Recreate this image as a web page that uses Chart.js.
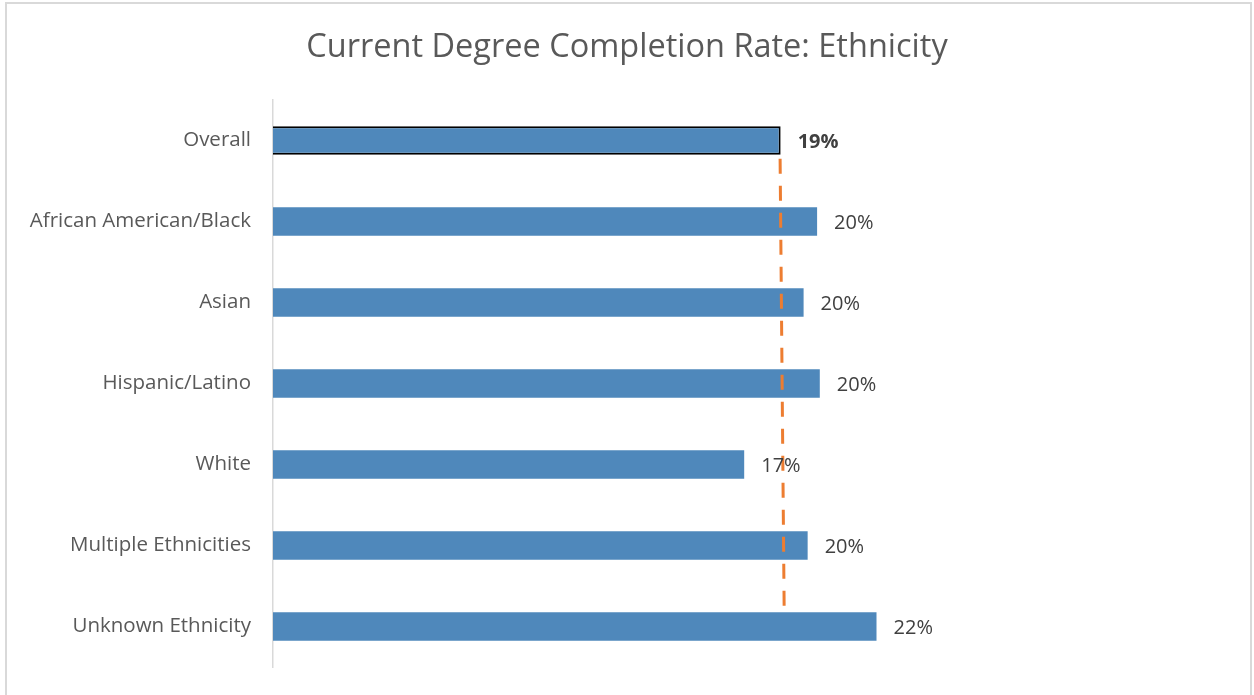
<!DOCTYPE html>
<html>
<head>
<meta charset="utf-8">
<script src="https://cdn.jsdelivr.net/npm/chart.js@4"></script>
<style>
  html, body { margin: 0; padding: 0; background: #fff; overflow: hidden; }
  #frame {
    position: absolute; left: 5px; top: 2px; width: 1247px; height: 700px;
    border: 2px solid #d9d9d9; box-sizing: border-box;
  }
  #chart { position: absolute; left: 0; top: 0; }
</style>
</head>
<body>
<div id="frame"></div>
<canvas id="chart" width="1254" height="695"></canvas>
<script>
//Categories and values (percent)
const CATEGORIES = ["Overall", "African American/Black", "Asian", "Hispanic/Latino",
    "White", "Multiple Ethnicities", "Unknown Ethnicity"];
const RATES = [18.8, 20.15, 19.65, 20.25, 17.45, 19.8, 22.35];
const LABELS = ["19%", "20%", "20%", "20%", "17%", "20%", "22%"];
//Overall average reference line, from the top of the first bar to the bottom of the last
//(y is measured in category bands, 0 = top of the first band)
const AVG_LINE = [{ x: 18.78, y: 0.33 }, { x: 18.93, y: 6.67 }];

const FONT = "'Open Sans', 'Noto Sans', sans-serif";

//Writes the value labels to the right of each bar
const barLabels = {
    id: "barLabels",
    afterDatasetsDraw(chart) {
        const ctx = chart.ctx;
        const meta = chart.getDatasetMeta(0);
        ctx.save();
        ctx.textBaseline = "middle";
        ctx.textAlign = "left";
        ctx.fillStyle = "#404040";
        meta.data.forEach((bar, i) => {
            ctx.font = (i === 0 ? "bold " : "") + "20px " + FONT;
            ctx.fillText(LABELS[i], bar.x + 17, bar.y + 2);
        });
        ctx.restore();
    }
};

new Chart(document.getElementById("chart"), {
    type: "bar",
    data: {
        labels: CATEGORIES,
        datasets: [
            {
                type: "bar",
                data: RATES,
                backgroundColor: "#4F88BB",
                borderColor: "#000000",
                borderWidth: (c) => (c.dataIndex === 0 ? 2 : 0),
                borderSkipped: "start",
                grouped: false,
                categoryPercentage: 1,
                barPercentage: 0.35,
                xAxisID: "x",
                yAxisID: "y",
                order: 2
            },
            {
                type: "line",
                data: AVG_LINE,
                borderColor: "#ED7D31",
                borderWidth: 3,
                borderDash: [15, 12],
                pointRadius: 0,
                fill: false,
                xAxisID: "x",
                yAxisID: "y2",
                order: 0
            }
        ]
    },
    options: {
        indexAxis: "y",
        responsive: false,
        animation: false,
        layout: { padding: { left: 0, right: 0, top: 0, bottom: 28 } },
        scales: {
            x: {
                type: "linear",
                min: 0,
                max: 36.33,
                display: false
            },
            y: {
                type: "category",
                grid: { display: false, drawTicks: false },
                border: { display: true, color: "#d9d9d9", width: 1.5 },
                ticks: {
                    color: "#595959",
                    font: { family: FONT, size: 20.5 },
                    padding: 22
                },
                afterFit: (scale) => {
                    scale.width = 273;
                    scale.paddingTop = 0;
                    scale.paddingBottom = 0;
                }
            },
            y2: {
                type: "linear",
                min: 0,
                max: CATEGORIES.length,
                bounds: "data",
                reverse: true,
                display: false
            }
        },
        plugins: {
            legend: { display: false },
            tooltip: { enabled: false },
            title: {
                display: true,
                text: "Current Degree Completion Rate: Ethnicity",
                color: "#595959",
                font: { family: FONT, size: 32.5, weight: "normal", lineHeight: 1.2 },
                padding: { top: 28, bottom: 33 }
            }
        }
    },
    plugins: [barLabels]
});
</script>
</body>
</html>
